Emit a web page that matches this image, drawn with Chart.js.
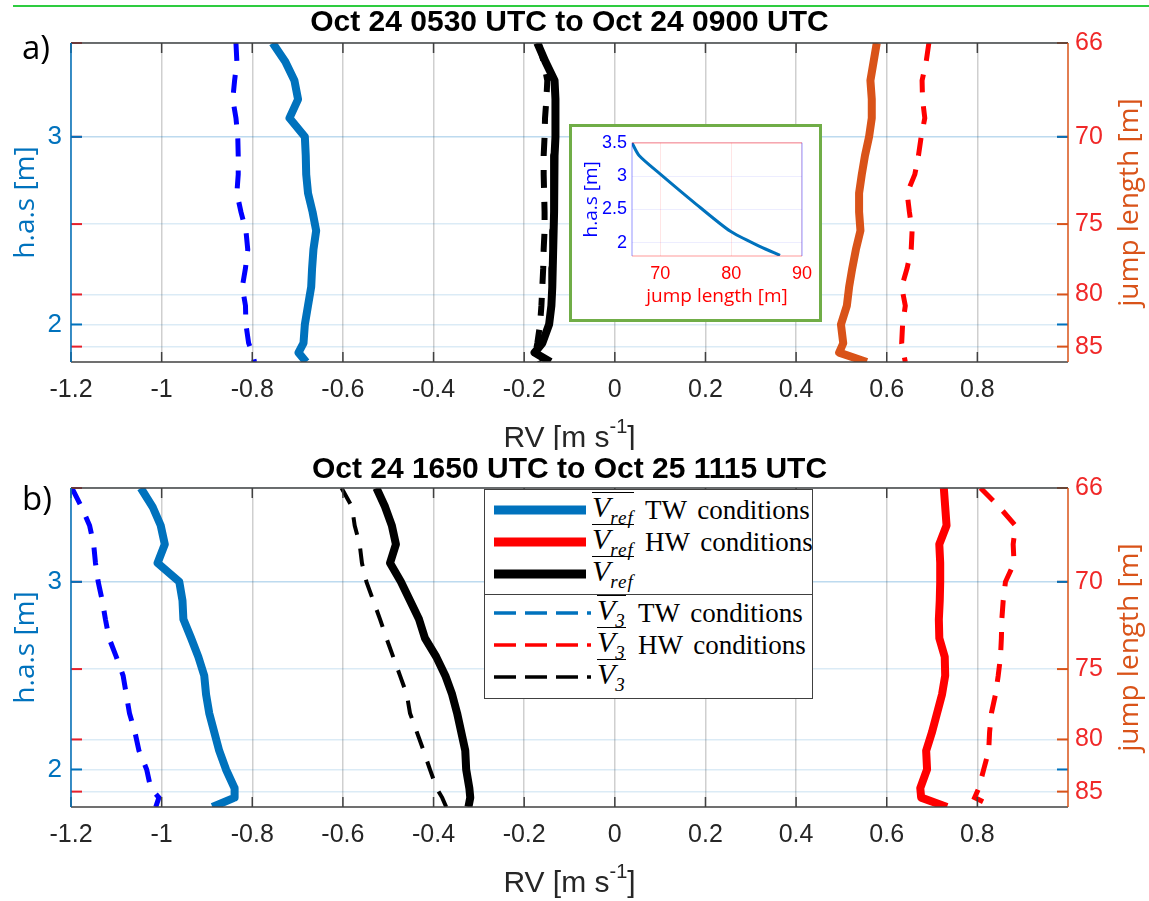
<!DOCTYPE html>
<html>
<head>
<meta charset="utf-8">
<script src="https://cdn.jsdelivr.net/npm/chart.js@4.4.1/dist/chart.umd.min.js"></script>
<style>
  body { margin: 0; background: #fff; }
  #wrap { position: relative; width: 1149px; height: 901px; overflow: hidden; }
  .topline { position: absolute; left: 13px; top: 5px; width: 1136px; height: 2px; background: #2ecc40; }
  #chartA { position: absolute; left: 0; top: 0; }
  #chartB { position: absolute; left: 0; top: 445px; }
  #insetBox { position: absolute; left: 569px; top: 124px; width: 247px; height: 192px; border: 3px solid #70ad47; background: #fff; }
  .leg { position: absolute; left: 484px; width: 327px; background: #fff; border: 1.5px solid #404040; font-family: "Liberation Serif", serif; font-size: 27px; color: #000; }
  .row { position: absolute; left: 0; height: 32px; width: 100%; }
  .row svg { position: absolute; top: 10px; }
  .sym { position: absolute; top: -2px; line-height: 30px; white-space: nowrap; }
  .ov { display: inline-block; border-top: 1.5px solid #000; line-height: 28px; }
  .ov i { font-style: italic; font-size: 30px; }
  .ov i.sb { font-size: 19px; position: relative; top: 7px; letter-spacing: 1px; }
  .txt { position: absolute; top: 0; line-height: 32px; white-space: nowrap; word-spacing: 4px; }
</style>
</head>
<body>
<div id="wrap">
  <div class="topline"></div>
  <canvas id="chartA" width="1149" height="450"></canvas>
  <canvas id="chartB" width="1149" height="456"></canvas>
  <div id="insetBox"><canvas id="inset" width="247" height="192"></canvas></div>
  <div class="leg" id="legTop" style="top:489px;height:104px;"></div>
  <div class="leg" id="legBot" style="top:594px;height:103px;"></div>
</div>
<script>
// heights above surface [m], shared by every profile
const heights = [3.5, 3.4, 3.3, 3.2, 3.1, 3.0, 2.9, 2.8, 2.7, 2.6, 2.5, 2.4, 2.3, 2.2, 2.1, 2.0, 1.9, 1.85, 1.8];

// panel a) Oct 24 0530 - 0900 UTC
const a_twRef  = [-0.755, -0.727, -0.707, -0.699, -0.718, -0.684, -0.682, -0.681, -0.677, -0.667, -0.659, -0.665, -0.668, -0.670, -0.677, -0.684, -0.687, -0.698, -0.681];
const a_twV3   = [-0.836, -0.834, -0.839, -0.843, -0.836, -0.832, -0.831, -0.831, -0.834, -0.825, -0.814, -0.810, -0.815, -0.822, -0.815, -0.814, -0.808, -0.800, -0.795];
const a_allRef = [-0.171, -0.153, -0.133, -0.131, -0.131, -0.131, -0.133, -0.134, -0.134, -0.134, -0.135, -0.136, -0.137, -0.138, -0.140, -0.145, -0.160, -0.177, -0.142];
const a_allV3  = [-0.168, -0.157, -0.149, -0.151, -0.154, -0.155, -0.157, -0.157, -0.156, -0.155, -0.155, -0.157, -0.158, -0.160, -0.162, -0.165, -0.171, -0.175, -0.164];
const a_hwRef  = [0.578, 0.571, 0.564, 0.567, 0.567, 0.561, 0.552, 0.545, 0.539, 0.539, 0.542, 0.532, 0.524, 0.517, 0.512, 0.499, 0.504, 0.495, 0.556];
const a_hwV3   = [0.693, 0.687, 0.678, 0.679, 0.684, 0.676, 0.670, 0.662, 0.645, 0.650, 0.656, 0.654, 0.645, 0.633, 0.641, 0.635, 0.633, 0.637, 0.641];

// panel b) Oct 24 1650 - Oct 25 1115 UTC
const b_twRef  = [-1.046, -1.020, -1.002, -0.993, -1.009, -0.961, -0.954, -0.952, -0.935, -0.919, -0.906, -0.902, -0.895, -0.884, -0.873, -0.858, -0.839, -0.839, -0.888];
const b_twV3   = [-1.198, -1.177, -1.159, -1.150, -1.146, -1.140, -1.131, -1.124, -1.116, -1.100, -1.085, -1.078, -1.071, -1.059, -1.050, -1.033, -1.024, -1.006, -1.013];
const b_allRef = [-0.526, -0.507, -0.492, -0.483, -0.496, -0.472, -0.452, -0.432, -0.419, -0.394, -0.374, -0.359, -0.348, -0.339, -0.330, -0.328, -0.321, -0.319, -0.323];
const b_allV3  = [-0.603, -0.580, -0.574, -0.563, -0.558, -0.548, -0.533, -0.518, -0.504, -0.489, -0.474, -0.459, -0.452, -0.437, -0.422, -0.408, -0.393, -0.381, -0.372];
const b_hwRef  = [0.726, 0.729, 0.732, 0.716, 0.718, 0.718, 0.717, 0.715, 0.716, 0.728, 0.729, 0.722, 0.711, 0.700, 0.687, 0.689, 0.674, 0.676, 0.733];
const b_hwV3   = [0.807, 0.848, 0.884, 0.879, 0.881, 0.862, 0.857, 0.854, 0.853, 0.851, 0.846, 0.840, 0.831, 0.827, 0.825, 0.814, 0.803, 0.794, 0.837];

// axes
const rvTicks = [-1.2, -1, -0.8, -0.6, -0.4, -0.2, 0, 0.2, 0.4, 0.6, 0.8];
const hTicks = [2, 3];
const jumpTicks = [66, 70, 75, 80, 85];
const jumpTickHeights = [3.5, 3.0, 2.535, 2.16, 1.882];

// inset: height vs jump length
const insetJump = [66, 67.0, 70.0, 74.7, 79.9, 84.1, 86.9];
const insetHeight = [3.5, 3.31, 3.03, 2.61, 2.17, 1.94, 1.81];
const insetXTicks = [70, 80, 90];
const insetYTicks = [2, 2.5, 3, 3.5];

// legend
const legendColors = ['#0072BD', '#ff0000', '#000000'];
const legendTexts = ['TW conditions', 'HW conditions', ''];

const BLUE = '#0072BD', ORANGE = '#D95319', RED = '#ff0000';

function pts(vals) {
  return vals.map((v, i) => ({ x: v, y: heights[i] }));
}

function line(ctx, x1, y1, x2, y2) {
  ctx.beginPath(); ctx.moveTo(x1, y1); ctx.lineTo(x2, y2); ctx.stroke();
}

const panelDeco = {
  id: 'panelDeco',
  afterDraw(chart, args, o) {
    const { ctx, chartArea: a, scales } = chart;
    ctx.save();
    // inward ticks
    ctx.lineWidth = 2;
    jumpTickHeights.forEach(h => {
      const py = scales.y.getPixelForValue(h);
      ctx.strokeStyle = '#e8202a'; line(ctx, a.left, py, a.left + 11, py);
      ctx.strokeStyle = ORANGE; line(ctx, a.right - 11, py, a.right, py);
    });
    hTicks.forEach(h => {
      const py = scales.y.getPixelForValue(h);
      ctx.strokeStyle = BLUE;
      line(ctx, a.left, py, a.left + 11, py);
      line(ctx, a.right - 11, py, a.right, py);
    });
    ctx.lineWidth = 1.5;
    ctx.strokeStyle = '#404040';
    rvTicks.forEach(v => {
      const px = scales.x.getPixelForValue(v);
      line(ctx, px, a.bottom, px, a.bottom - 10);
      line(ctx, px, a.top, px, a.top + 10);
    });
    // frame
    line(ctx, a.left, a.top, a.right, a.top);
    line(ctx, a.left, a.bottom, a.right, a.bottom);
    ctx.strokeStyle = BLUE; line(ctx, a.left, a.top, a.left, a.bottom);
    ctx.strokeStyle = ORANGE; line(ctx, a.right, a.top, a.right, a.bottom);

    const cx = (a.left + a.right) / 2, cy = (a.top + a.bottom) / 2;
    // title
    ctx.fillStyle = '#000';
    ctx.font = 'bold 30px "Liberation Sans"';
    ctx.textAlign = 'center';
    ctx.textBaseline = 'middle';
    ctx.fillText(o.title, cx, a.top - o.titleOff);
    // panel label
    ctx.font = '33px "Open Sans"';
    ctx.textAlign = 'left';
    ctx.textBaseline = 'alphabetic';
    ctx.fillText(o.label, 22, o.labelY);
    // x title with superscript
    ctx.fillStyle = '#262626';
    ctx.font = '30px "Liberation Sans"';
    const p1 = 'RV [m s', p3 = ']';
    const w1 = ctx.measureText(p1).width, w3 = ctx.measureText(p3).width;
    ctx.font = '20px "Liberation Sans"';
    const w2 = ctx.measureText('-1').width;
    let x0 = cx - (w1 + w2 + w3) / 2;
    const by = a.bottom + 85;
    ctx.font = '30px "Liberation Sans"';
    ctx.fillText(p1, x0, by);
    ctx.fillText(p3, x0 + w1 + w2, by);
    ctx.font = '20px "Liberation Sans"';
    ctx.fillText('-1', x0 + w1, by - 14);
    // y titles
    ctx.font = '28px "Open Sans"';
    ctx.textAlign = 'center';
    ctx.textBaseline = 'middle';
    ctx.save();
    ctx.translate(26, cy); ctx.rotate(-Math.PI / 2);
    ctx.fillStyle = BLUE; ctx.fillText('h.a.s [m]', 0, 0);
    ctx.restore();
    ctx.save();
    ctx.translate(1130, cy); ctx.rotate(-Math.PI / 2);
    ctx.fillStyle = ORANGE; ctx.fillText('jump length [m]', 0, 0);
    ctx.restore();
    ctx.restore();
  }
};

function solid(vals, color) {
  return { data: pts(vals), showLine: true, borderColor: color, borderWidth: 8, pointRadius: 0,
           borderJoinStyle: 'round', tension: 0 };
}
function dashed(vals, color, w) {
  return { data: pts(vals), showLine: true, borderColor: color, borderWidth: w, pointRadius: 0,
           borderDash: [18, 14], tension: 0 };
}

function makePanel(id, H, datasets, deco) {
  return new Chart(document.getElementById(id), {
    type: 'scatter',
    data: { datasets },
    options: {
      responsive: false, animation: false, devicePixelRatio: 1,
      layout: { padding: { top: 43, left: 0, right: 0, bottom: 0 } },
      plugins: { legend: { display: false }, tooltip: { enabled: false }, panelDeco: deco },
      scales: {
        x: {
          type: 'linear', min: -1.2, max: 1.0,
          afterBuildTicks: s => { s.ticks = rvTicks.map(v => ({ value: v })); },
          afterFit: s => { s.height = H - 362; },
          grid: { color: 'rgba(38,38,38,0.22)', lineWidth: 1.5, drawTicks: false },
          border: { display: false },
          ticks: { padding: 13, color: '#262626', font: { family: 'Liberation Sans', size: 25 },
                   callback: v => String(+v.toFixed(1)) }
        },
        y: {
          type: 'linear', position: 'left', min: 1.8, max: 3.5,
          afterBuildTicks: s => { s.ticks = hTicks.map(v => ({ value: v })); },
          afterFit: s => { s.width = 71; },
          grid: { color: 'rgba(0,114,189,0.14)', lineWidth: 1.5, drawTicks: false },
          border: { display: false },
          ticks: { padding: 9, color: BLUE, font: { family: 'Liberation Sans', size: 26 },
                   callback: v => String(v) }
        },
        y1: {
          type: 'linear', position: 'right', min: 1.8, max: 3.5,
          afterBuildTicks: s => { s.ticks = jumpTickHeights.map(v => ({ value: v })); },
          afterFit: s => { s.width = 81; },
          grid: { color: 'rgba(0,114,189,0.14)', lineWidth: 1.5, drawTicks: false },
          border: { display: false },
          ticks: { padding: 7, color: '#f02828', font: { family: 'Liberation Sans', size: 25 },
                   callback: (v, i) => String(jumpTicks[i]) }
        }
      }
    },
    plugins: [panelDeco]
  });
}

makePanel('chartA', 450, [
  solid(a_twRef, BLUE),
  dashed(a_twV3, '#0000ff', 5),
  solid(a_allRef, '#000'),
  dashed(a_allV3, '#000', 6),
  solid(a_hwRef, ORANGE),
  dashed(a_hwV3, RED, 5)
], { title: 'Oct 24 0530 UTC to Oct 24 0900 UTC', titleOff: 20, label: 'a)', labelY: 59 });

makePanel('chartB', 456, [
  solid(b_twRef, BLUE),
  dashed(b_twV3, '#0000ff', 5),
  solid(b_allRef, '#000'),
  dashed(b_allV3, '#000', 4),
  solid(b_hwRef, RED),
  dashed(b_hwV3, RED, 5)
], { title: 'Oct 24 1650 UTC to Oct 25 1115 UTC', titleOff: 18, label: 'b)', labelY: 65 });

// inset chart
const insetDeco = {
  id: 'insetDeco',
  afterDraw(chart) {
    const { ctx, chartArea: a } = chart;
    ctx.save();
    ctx.lineWidth = 1.2;
    ctx.strokeStyle = 'rgba(255,0,0,0.4)';
    line(ctx, a.left, a.top, a.right, a.top);
    line(ctx, a.left, a.bottom, a.right, a.bottom);
    ctx.strokeStyle = 'rgba(0,0,255,0.35)';
    line(ctx, a.left, a.top, a.left, a.bottom);
    line(ctx, a.right, a.top, a.right, a.bottom);
    ctx.font = '19px "Open Sans"';
    ctx.textAlign = 'center';
    ctx.textBaseline = 'middle';
    ctx.fillStyle = '#ff0000';
    ctx.fillText('jump length [m]', (a.left + a.right) / 2, 170);
    ctx.save();
    ctx.translate(20, (a.top + a.bottom) / 2); ctx.rotate(-Math.PI / 2);
    ctx.fillStyle = '#0000ff';
    ctx.fillText('h.a.s [m]', 0, 0);
    ctx.restore();
    ctx.restore();
  }
};

new Chart(document.getElementById('inset'), {
  type: 'scatter',
  data: { datasets: [{
    data: insetJump.map((j, i) => ({ x: j, y: insetHeight[i] })),
    showLine: true, borderColor: BLUE, borderWidth: 3, pointRadius: 0, tension: 0.25
  }] },
  options: {
    responsive: false, animation: false, devicePixelRatio: 1,
    layout: { padding: { top: 8, right: 17, left: 0, bottom: 0 } },
    plugins: { legend: { display: false }, tooltip: { enabled: false } },
    scales: {
      x: {
        type: 'linear', min: 66, max: 90,
        afterBuildTicks: s => { s.ticks = insetXTicks.map(v => ({ value: v })); },
        afterFit: s => { s.height = 63; },
        grid: { color: 'rgba(255,0,0,0.1)', drawTicks: false },
        border: { display: false },
        ticks: { padding: 7, color: '#ff0000', font: { family: 'Liberation Sans', size: 18 },
                 callback: v => String(v) }
      },
      y: {
        type: 'linear', min: 1.8, max: 3.5,
        afterBuildTicks: s => { s.ticks = insetYTicks.map(v => ({ value: v })); },
        afterFit: s => { s.width = 60; },
        grid: { color: 'rgba(0,0,255,0.07)', drawTicks: false },
        border: { display: false },
        ticks: { padding: 5, color: '#0000ff', font: { family: 'Liberation Sans', size: 18 },
                 callback: v => String(v) }
      }
    }
  },
  plugins: [insetDeco]
});

// legend boxes
function sample(color, dashedLine) {
  const w = dashedLine ? 97 : 92;
  const sw = dashedLine ? 3.5 : 9;
  const dash = dashedLine ? 'stroke-dasharray="22 9"' : '';
  return `<svg width="${w}" height="12" style="left:9px"><line x1="0" y1="6" x2="${w}" y2="6" stroke="${color}" stroke-width="${sw}" ${dash}/></svg>`;
}
function buildLegend(el, sub, dashedLine, centers, symLeft, txtLeft) {
  el.innerHTML = legendColors.map((c, i) => `
    <div class="row" style="top:${centers[i] - 16}px">
      ${sample(c, dashedLine)}
      <span class="sym" style="left:${symLeft}px"><span class="ov"><i>V</i><i class="sb">${sub}</i></span></span>
      <span class="txt" style="left:${txtLeft}px">${legendTexts[i]}</span>
    </div>`).join('');
}
buildLegend(document.getElementById('legTop'), 'ref', false, [20, 52, 84], 107, 160);
buildLegend(document.getElementById('legBot'), '3', true, [18, 50, 82], 112, 153);
</script>
</body>
</html>
